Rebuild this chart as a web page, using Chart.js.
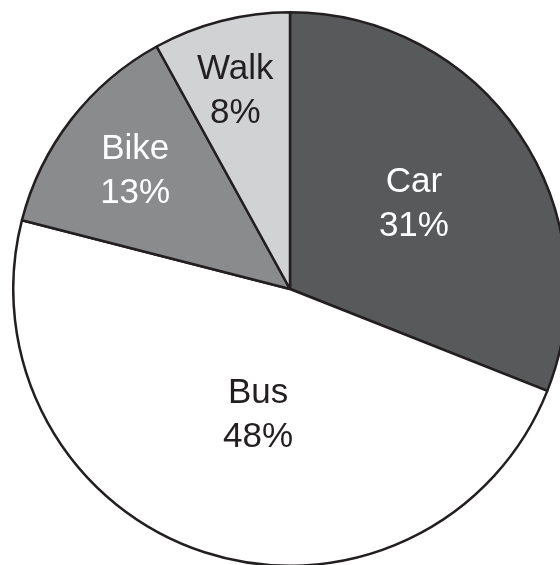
<!DOCTYPE html>
<html>
<head>
<meta charset="utf-8">
<script src="https://cdn.jsdelivr.net/npm/chart.js@4"></script>
<style>
  html, body { margin: 0; padding: 0; background: #fff; overflow: hidden; width: 560px; height: 565px; }
  #wrap { position: absolute; left: 12px; top: 11px; width: 556px; height: 556px; }
</style>
</head>
<body>
<div id="wrap"><canvas id="c"></canvas></div>
<script>
const categories = ["Car", "Bus", "Bike", "Walk"];
const shares = [31, 48, 13, 8];
const sliceColors = ["#58595b", "#ffffff", "#8a8b8d", "#d1d2d4"];
const labelColors = ["#ffffff", "#231f20", "#ffffff", "#231f20"];

const labelPlugin = {
  id: 'sliceLabels',
  afterDatasetsDraw(chart, args, opts) {
    const ctx = chart.ctx;
    const meta = chart.getDatasetMeta(0);
    ctx.save();
    ctx.font = '35px "Liberation Sans", Arial, sans-serif';
    ctx.textAlign = 'center';
    ctx.textBaseline = 'alphabetic';
    meta.data.forEach((arc, i) => {
      const p = arc.getProps(['x', 'y', 'startAngle', 'endAngle', 'outerRadius'], true);
      const mid = (p.startAngle + p.endAngle) / 2 + opts.angleShift[i] * Math.PI / 180;
      const r = p.outerRadius * opts.radial[i];
      const cx = p.x + Math.cos(mid) * r;
      const cy = p.y + Math.sin(mid) * r;
      ctx.fillStyle = labelColors[i];
      ctx.fillText(categories[i], cx, cy - 9.5);
      ctx.fillText(shares[i] + '%', cx, cy + 34.5);
    });
    ctx.restore();
  }
};

new Chart(document.getElementById('c'), {
  type: 'pie',
  data: {
    labels: categories,
    datasets: [{
      data: shares,
      backgroundColor: sliceColors,
      borderColor: '#231f20',
      borderWidth: 2.5
    }]
  },
  options: {
    responsive: true,
    maintainAspectRatio: false,
    animation: false,
    layout: { padding: 0 },
    plugins: {
      legend: { display: false },
      tooltip: { enabled: false },
      sliceLabels: { radial: [0.548, 0.46, 0.708, 0.75], angleShift: [-1, -3.5, 0, -0.9] }
    }
  },
  plugins: [labelPlugin]
});
</script>
</body>
</html>
